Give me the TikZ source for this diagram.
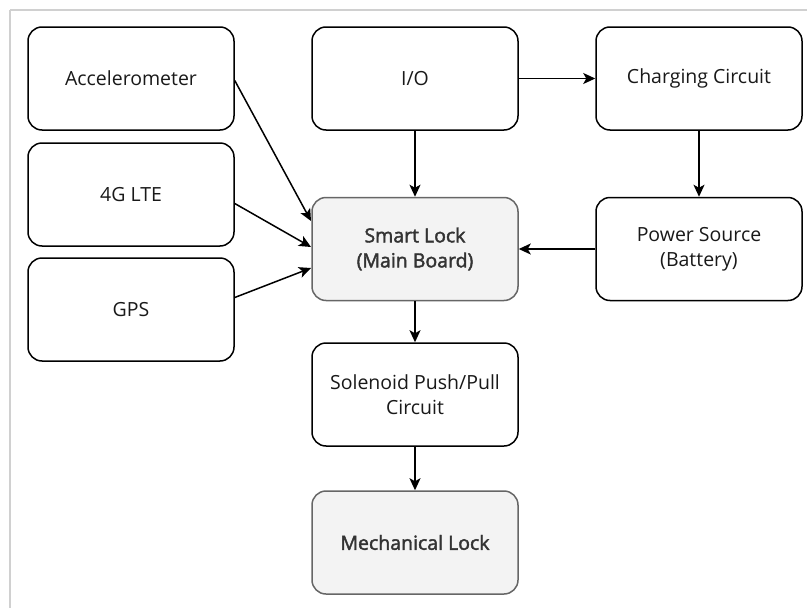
\documentclass[tikz,border=0pt]{standalone}
\usepackage{fontspec}
\setmainfont{Open Sans}
\newfontfamily\medfont[FakeBold=2]{Open Sans}
\usetikzlibrary{arrows.meta}
\definecolor{fillgray}{HTML}{F3F3F3}
\definecolor{edgegray}{HTML}{666666}
\definecolor{txtgray}{HTML}{333333}
\definecolor{framegray}{HTML}{D0D0D0}
\begin{document}
\begin{tikzpicture}[x=1pt,y=-1pt,
  blk/.style={draw=black, line width=1.5pt, rounded corners=14pt, fill=white,
    minimum width=206pt, minimum height=103pt, inner sep=0pt, align=center,
    font=\fontsize{19.5}{25}\selectfont, text=black!90},
  hl/.style={blk, draw=edgegray, fill=fillgray, text=txtgray,
    font=\fontsize{19.5}{25}\selectfont\medfont},
  arr/.style={line width=1.5pt, -{Stealth[length=12pt,width=11pt,inset=3pt]}}]
\useasboundingbox (0,0) rectangle (807,608);
\draw[framegray, line width=2pt] (10,10) -- (10,620);
\draw[framegray, line width=2pt] (10,10) -- (820,10);
\node[blk] (acc) at (131,78.5) {Accelerometer};
\node[blk] (lte) at (131,194.5) {4G LTE};
\node[blk] (gps) at (131,309.5) {GPS};
\node[blk] (io) at (415,78.5) {I/O};
\node[blk] (chg) at (699,78.5) {Charging Circuit};
\node[hl] (main) at (415,249) {Smart Lock\\(Main Board)};
\node[blk] (pwr) at (699,249) {Power Source\\(Battery)};
\node[blk] (sol) at (415,394.5) {Solenoid Push/Pull\\Circuit};
\node[hl] (mech) at (415,542.5) {Mechanical Lock};
\coordinate (m1) at (311,221);
\coordinate (m2) at (311,247);
\coordinate (m3) at (311,268);
\draw[arr] (acc.east) ++(0,2) -- (m1);
\draw[arr] (lte.east) ++(0,9) -- (m2);
\draw[arr] (gps.east) ++(0,-12) -- (m3);
\draw[arr] (io) -- (main);
\draw[arr] (io) -- (chg);
\draw[arr] (chg) -- (pwr);
\draw[arr] (pwr) -- (main);
\draw[arr] (main) -- (sol);
\draw[arr] (sol) -- (mech);
\end{tikzpicture}
\end{document}
